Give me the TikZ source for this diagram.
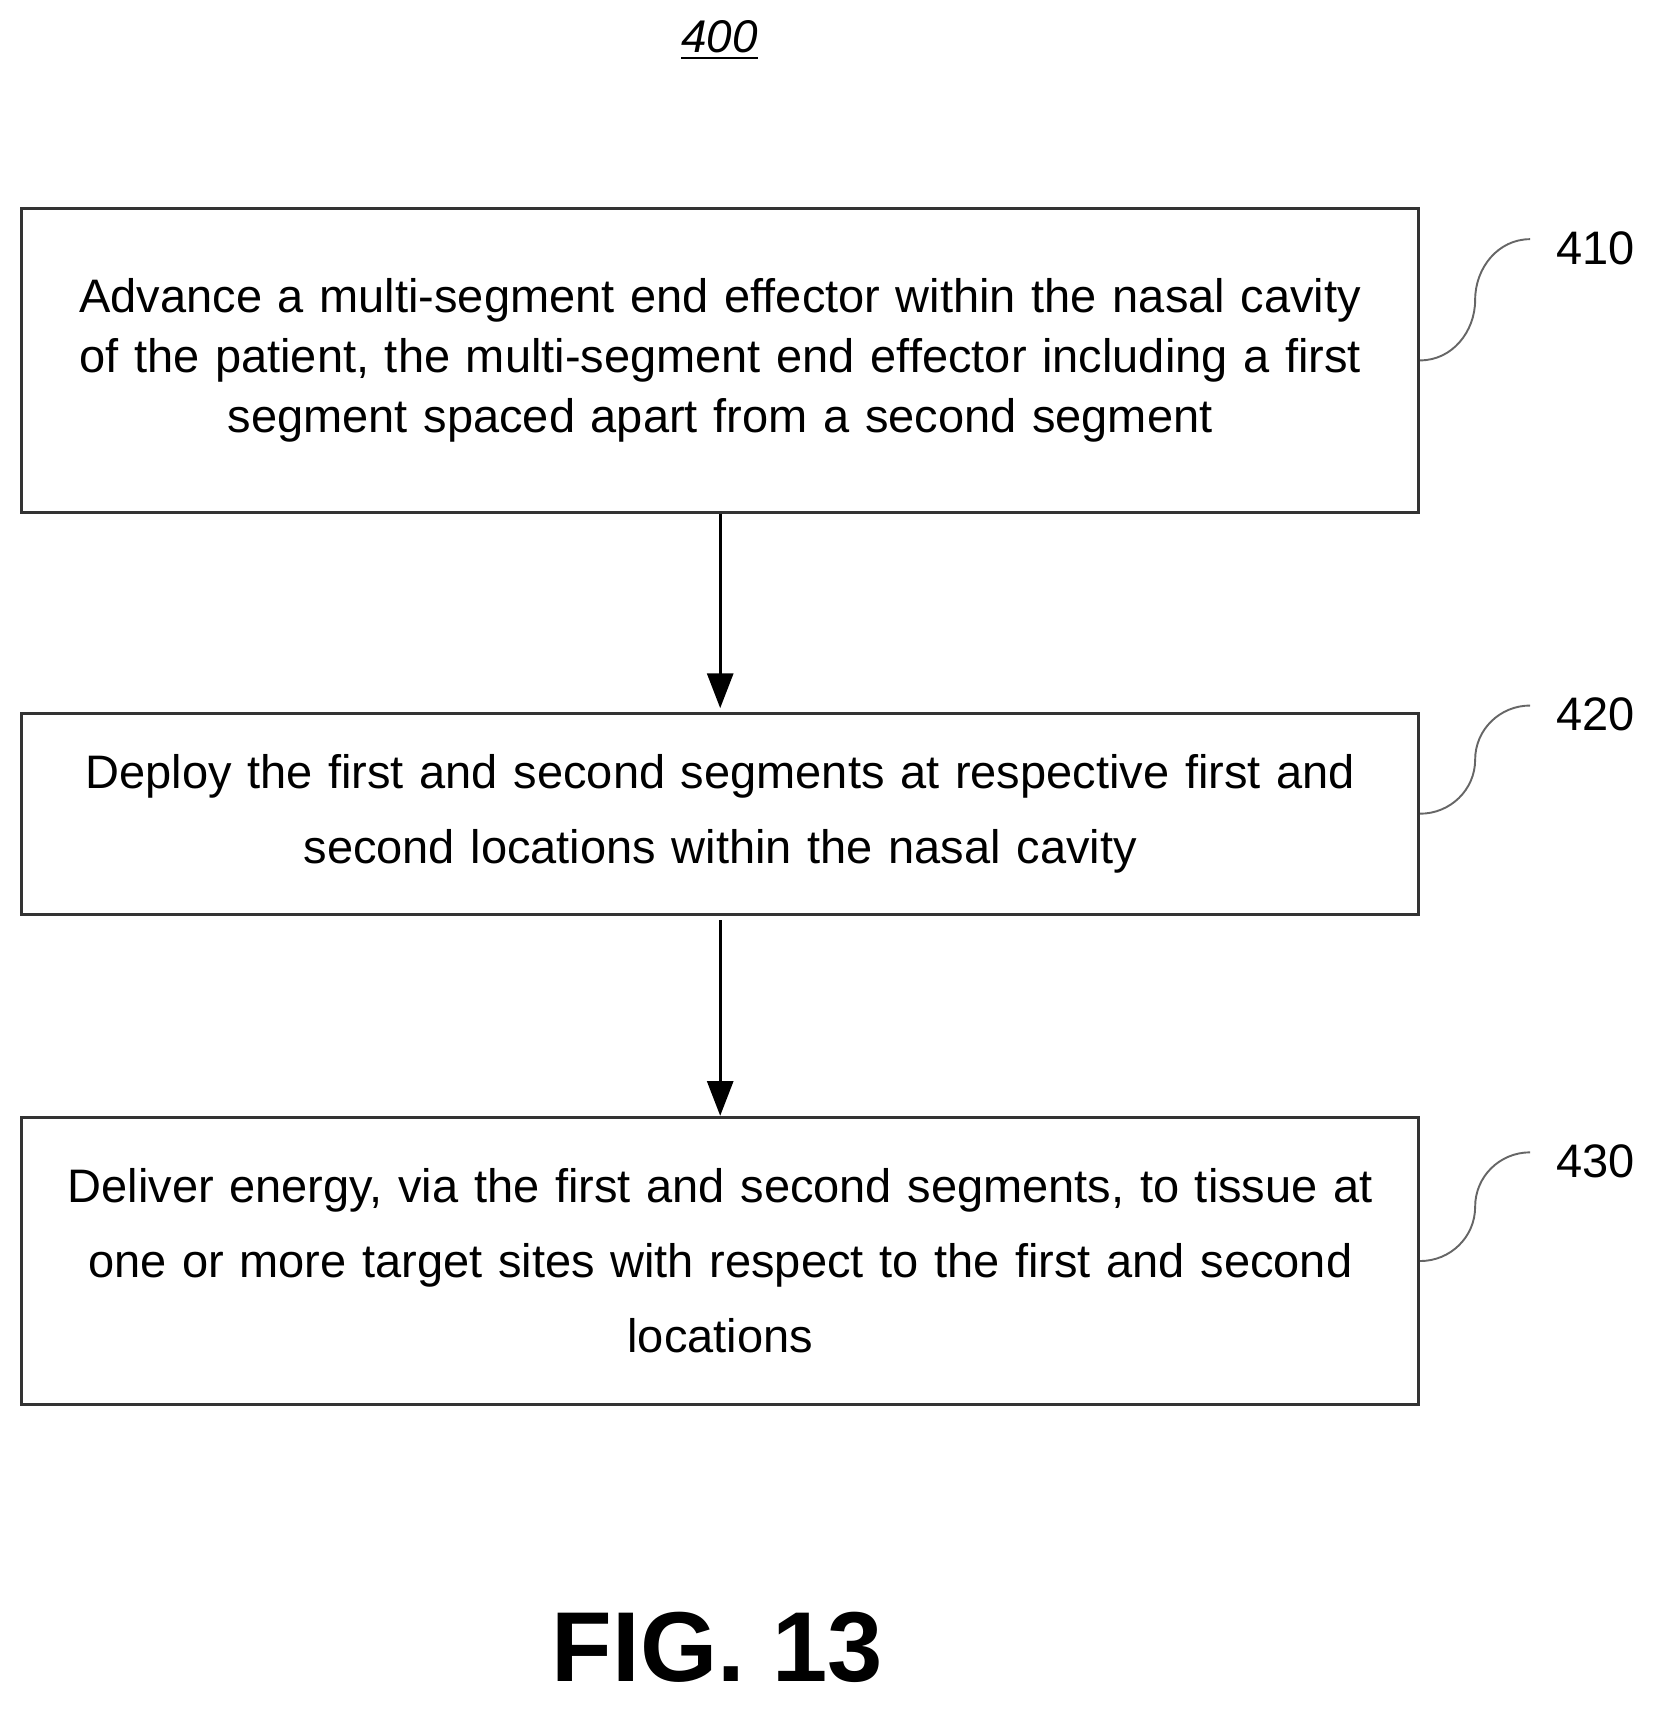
\documentclass[tikz,border=0pt]{standalone}
\usepackage{fontspec}
\setmainfont{Liberation Sans}
\usetikzlibrary{calc,positioning,arrows.meta}

\begin{document}
\begin{tikzpicture}[
    stepbox/.style={draw=black!80,line width=0.8pt,minimum width=12.85cm,
        text width=12.85cm,align=center,inner sep=0pt},
    flow/.style={-{Triangle[length=3.2mm,width=2.4mm]},line width=0.7pt},
    leader/.style={draw=black!60,line width=0.5pt},
    ref/.style={font=\fontsize{12.3pt}{14pt}\selectfont,anchor=center},
    ]
    \useasboundingbox (0,0) rectangle (15.3,-15.73);
    \node (title) at (6.62,-0.37) {\fontsize{12pt}{14pt}\selectfont\itshape\underline{400}};
    % steps
    \node[stepbox,minimum height=2.79cm,font=\fontsize{12.3pt}{15.6pt}\selectfont]
        (s410) at (6.625,-3.315) {Advance a multi-segment end effector within the nasal cavity\\
        of the patient, the multi-segment end effector including a first\\
        segment spaced apart from a second segment};
    \node[stepbox,minimum height=1.85cm,font=\fontsize{12.3pt}{19.6pt}\selectfont]
        (s420) at (6.625,-7.485) {Deploy the first and second segments at respective first and\\
        second locations within the nasal cavity};
    \node[stepbox,minimum height=2.64cm,font=\fontsize{12.3pt}{19.6pt}\selectfont]
        (s430) at (6.625,-11.6) {Deliver energy, via the first and second segments, to tissue at\\
        one or more target sites with respect to the first and second\\
        locations};
    \draw[flow] (s410.south) -- ++(0,-1.79) coordinate (a1);
    \draw[flow] ([yshift=-0.04cm]s420.south) -- ++(0,-1.80) coordinate (a2);
    % reference numerals
    \node[ref] (l410) at (14.68,-2.28) {410};
    \node[ref] (l420) at (14.68,-6.57) {420};
    \node[ref] (l430) at (14.68,-10.68) {430};
    \foreach \n in {410,420,430}{
        \coordinate (e\n) at ($(l\n.west)+(-0.12,0.08)$);
        \draw[leader] (s\n.east) to[out=0,in=270] ($(s\n.east)!0.5!(e\n)$)
            to[out=90,in=180] (e\n);
    }
    \node[font=\fontsize{26pt}{30pt}\selectfont\bfseries] (fig) at (6.6,-15.15) {FIG. 13};
\end{tikzpicture}
\end{document}
